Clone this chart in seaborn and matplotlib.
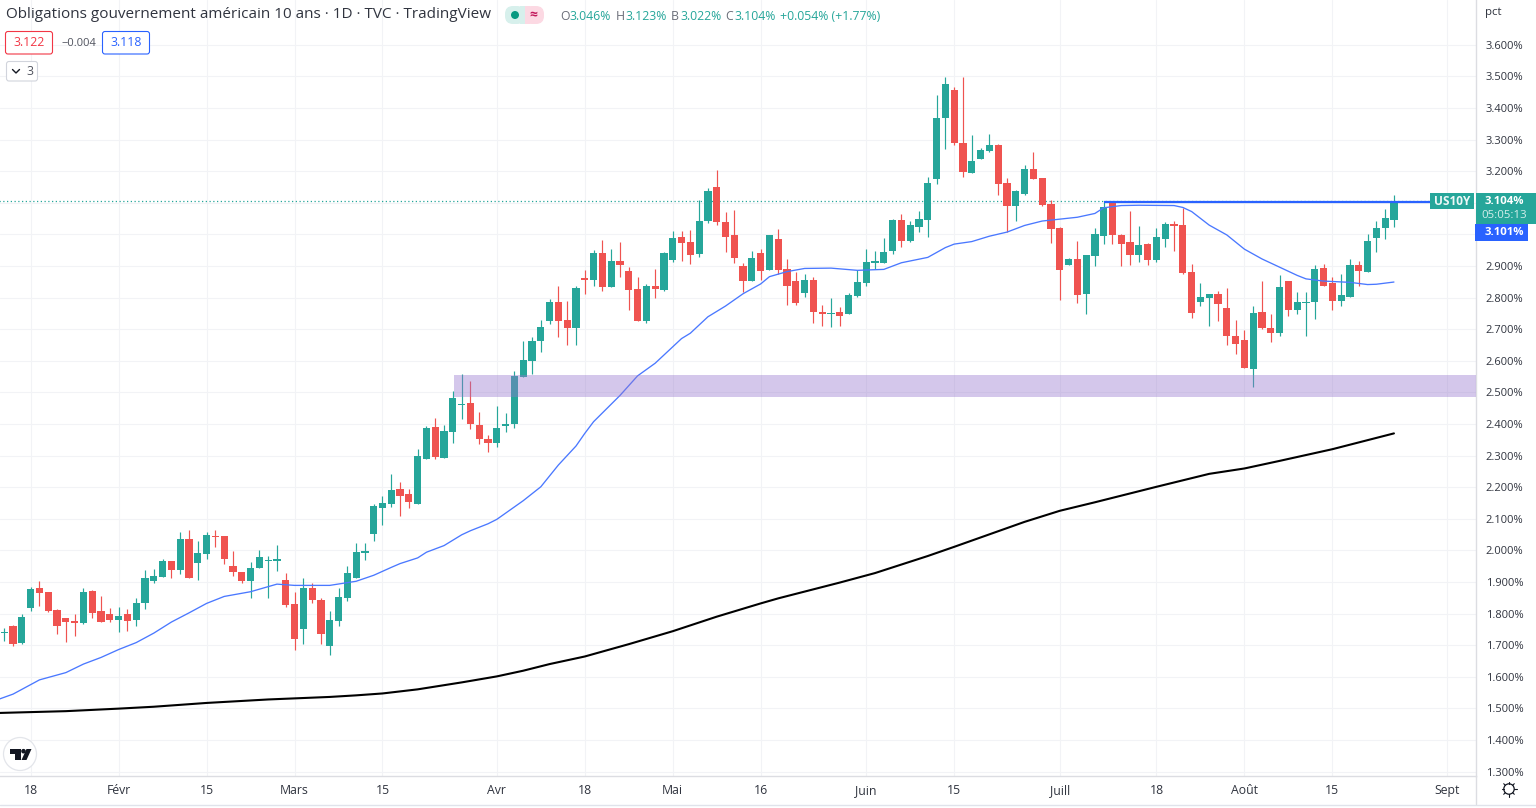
import numpy as np
import pandas as pd
import matplotlib
matplotlib.use("Agg")
import matplotlib.pyplot as plt
import seaborn as sns
from matplotlib.patches import Rectangle, FancyBboxPatch, Circle, Polygon

# === data ===
opens = [1.737, 1.761, 1.707, 1.818, 1.881, 1.868, 1.811, 1.786, 1.776, 1.770, 1.871, 1.808, 1.799, 1.780, 1.799, 1.780,
         1.833, 1.903, 1.916, 1.966, 1.938, 2.036, 1.960, 1.988, 2.045, 2.045, 1.950, 1.931, 1.903, 1.944, 1.966, 1.966,
         1.906, 1.830, 1.751, 1.881, 1.843, 1.697, 1.776, 1.849, 1.912, 1.992, 2.052, 2.134, 2.147, 2.194, 2.178, 2.147,
         2.289, 2.390, 2.292, 2.374, 2.460, 2.466, 2.396, 2.352, 2.340, 2.393, 2.400, 2.548, 2.599, 2.662, 2.726, 2.786,
         2.729, 2.703, 2.862, 2.855, 2.941, 2.833, 2.915, 2.884, 2.827, 2.725, 2.836, 2.824, 2.919, 2.991, 2.976, 2.937,
         3.042, 3.150, 3.039, 2.998, 2.900, 2.852, 2.941, 2.887, 2.985, 2.890, 2.852, 2.814, 2.855, 2.754, 2.748, 2.754,
         2.748, 2.804, 2.846, 2.909, 2.909, 2.947, 3.045, 2.979, 3.023, 3.045, 3.175, 3.368, 3.457, 3.289, 3.194, 3.238,
         3.264, 3.283, 3.162, 3.089, 3.127, 3.206, 3.178, 3.096, 3.020, 2.903, 2.922, 2.811, 2.931, 2.994, 3.098, 2.998,
         2.976, 2.934, 2.969, 2.918, 2.985, 3.033, 3.029, 2.880, 2.786, 2.798, 2.811, 2.767, 2.678, 2.665, 2.574, 2.754,
         2.703, 2.688, 2.852, 2.760, 2.783, 2.786, 2.893, 2.846, 2.789, 2.802, 2.903, 2.881, 2.988, 3.020, 3.046]
closes = [1.737, 1.704, 1.789, 1.878, 1.865, 1.808, 1.761, 1.773, 1.770, 1.868, 1.802, 1.773, 1.780, 1.792, 1.776, 1.833,
          1.912, 1.919, 1.966, 1.938, 2.036, 1.912, 1.992, 2.049, 2.042, 1.973, 1.931, 1.903, 1.944, 1.979, 1.969, 1.973,
          1.827, 1.719, 1.881, 1.843, 1.735, 1.780, 1.852, 1.928, 1.995, 1.998, 2.140, 2.150, 2.191, 2.172, 2.153, 2.299,
          2.387, 2.295, 2.378, 2.482, 2.463, 2.400, 2.352, 2.340, 2.387, 2.400, 2.551, 2.602, 2.662, 2.707, 2.786, 2.726,
          2.703, 2.830, 2.856, 2.941, 2.833, 2.915, 2.903, 2.824, 2.725, 2.836, 2.827, 2.941, 2.988, 2.972, 2.934, 3.042,
          3.137, 3.039, 2.991, 2.925, 2.852, 2.925, 2.884, 2.998, 2.887, 2.836, 2.782, 2.855, 2.754, 2.748, 2.751, 2.741,
          2.808, 2.849, 2.912, 2.915, 2.944, 3.045, 2.979, 3.029, 3.048, 3.162, 3.368, 3.476, 3.289, 3.197, 3.232, 3.267,
          3.283, 3.159, 3.089, 3.137, 3.206, 3.175, 3.093, 3.017, 2.887, 2.922, 2.808, 2.934, 3.001, 3.086, 2.998, 2.969,
          2.934, 2.966, 2.918, 2.991, 3.033, 3.026, 2.877, 2.751, 2.802, 2.811, 2.780, 2.678, 2.653, 2.577, 2.751, 2.703,
          2.688, 2.833, 2.760, 2.786, 2.786, 2.890, 2.836, 2.789, 2.808, 2.903, 2.884, 2.979, 3.020, 3.052, 3.104]
highs = [1.754, 1.764, 1.799, 1.884, 1.903, 1.868, 1.814, 1.786, 1.799, 1.881, 1.874, 1.855, 1.818, 1.821, 1.814, 1.849,
         1.938, 1.941, 1.973, 1.966, 2.058, 2.064, 2.030, 2.058, 2.064, 2.045, 1.998, 1.931, 1.963, 2.001, 1.982, 2.017,
         1.928, 1.868, 1.912, 1.897, 1.849, 1.808, 1.881, 1.950, 2.023, 2.023, 2.147, 2.172, 2.241, 2.216, 2.194, 2.321,
         2.393, 2.419, 2.396, 2.504, 2.558, 2.536, 2.437, 2.365, 2.456, 2.434, 2.567, 2.662, 2.675, 2.729, 2.795, 2.836,
         2.789, 2.836, 2.887, 2.950, 2.982, 2.953, 2.976, 2.896, 2.865, 2.843, 2.890, 2.944, 3.011, 3.011, 3.013, 3.108,
         3.146, 3.203, 3.070, 3.077, 2.909, 2.947, 2.953, 2.998, 3.017, 2.922, 2.881, 2.874, 2.865, 2.776, 2.798, 2.770,
         2.814, 2.887, 2.953, 2.947, 2.988, 3.048, 3.064, 3.042, 3.074, 3.181, 3.441, 3.498, 3.466, 3.498, 3.314, 3.273,
         3.317, 3.286, 3.178, 3.140, 3.219, 3.260, 3.178, 3.108, 3.023, 2.925, 2.979, 2.934, 3.020, 3.103, 3.103, 3.001,
         3.074, 3.026, 2.972, 3.020, 3.039, 3.042, 3.083, 2.906, 2.846, 2.811, 2.820, 2.830, 2.729, 2.697, 2.773, 2.852,
         2.748, 2.871, 2.852, 2.817, 2.817, 2.903, 2.906, 2.865, 2.874, 2.922, 2.915, 3.001, 3.042, 3.080, 3.123]
lows = [1.713, 1.697, 1.704, 1.808, 1.824, 1.805, 1.735, 1.710, 1.729, 1.767, 1.786, 1.773, 1.773, 1.742, 1.745, 1.761,
        1.814, 1.897, 1.916, 1.912, 1.925, 1.912, 1.906, 1.973, 2.011, 1.957, 1.919, 1.897, 1.849, 1.944, 1.849, 1.935,
        1.821, 1.685, 1.704, 1.833, 1.704, 1.669, 1.761, 1.840, 1.912, 1.969, 2.030, 2.080, 2.137, 2.109, 2.134, 2.147,
        2.289, 2.289, 2.292, 2.340, 2.415, 2.384, 2.336, 2.311, 2.327, 2.374, 2.387, 2.548, 2.558, 2.627, 2.716, 2.675,
        2.650, 2.650, 2.811, 2.836, 2.820, 2.833, 2.865, 2.760, 2.725, 2.719, 2.798, 2.820, 2.912, 2.915, 2.906, 2.928,
        3.036, 3.029, 2.944, 2.909, 2.817, 2.852, 2.855, 2.887, 2.874, 2.776, 2.776, 2.801, 2.719, 2.710, 2.706, 2.710,
        2.748, 2.801, 2.836, 2.890, 2.909, 2.938, 2.960, 2.976, 3.007, 2.991, 3.159, 3.270, 3.283, 3.181, 3.194, 3.238,
        3.260, 3.124, 3.007, 3.042, 3.124, 3.175, 3.089, 2.972, 2.792, 2.903, 2.783, 2.748, 2.900, 2.969, 2.969, 2.900,
        2.902, 2.912, 2.902, 2.912, 2.960, 2.947, 2.874, 2.735, 2.773, 2.710, 2.725, 2.650, 2.621, 2.577, 2.517, 2.700,
        2.659, 2.678, 2.741, 2.748, 2.678, 2.732, 2.836, 2.760, 2.773, 2.802, 2.836, 2.881, 2.944, 2.985, 3.022]

ma50_bars = [-1, 1, 3, 4, 7, 9, 11, 13, 15, 17, 19, 21, 23, 25, 28, 30, 31, 33, 37, 40, 42, 44, 45, 47, 48, 50, 52, 53, 55, 56,
             59, 61, 63, 65, 66, 67, 70, 72, 74, 77, 78, 80, 82, 84, 86, 87, 89, 91, 94, 97, 100, 102, 105, 107, 108, 110,
             112, 114, 116, 118, 122, 124, 125, 127, 129, 133, 134, 135, 137, 139, 141, 143, 145, 147, 148, 150, 153, 155,
             156, 158]
ma50_vals = [1.525, 1.545, 1.575, 1.590, 1.613, 1.640, 1.661, 1.686, 1.708, 1.738, 1.773, 1.802, 1.832, 1.854, 1.869, 1.885,
             1.893, 1.889, 1.889, 1.902, 1.921, 1.946, 1.958, 1.976, 1.994, 2.015, 2.049, 2.062, 2.084, 2.098, 2.157, 2.201,
             2.270, 2.330, 2.370, 2.407, 2.490, 2.552, 2.592, 2.670, 2.687, 2.739, 2.773, 2.812, 2.843, 2.866, 2.882, 2.892,
             2.893, 2.886, 2.889, 2.910, 2.927, 2.958, 2.969, 2.977, 2.994, 3.007, 3.028, 3.042, 3.054, 3.066, 3.084, 3.091,
             3.092, 3.091, 3.085, 3.072, 3.029, 2.998, 2.953, 2.922, 2.896, 2.870, 2.859, 2.852, 2.848, 2.841, 2.842, 2.849]

ma200_bars = [-1, 7, 13, 17, 23, 30, 37, 40, 43, 47, 52, 56, 59, 62, 66, 71, 76, 81, 86, 88, 95, 99, 105, 108, 116, 120, 124,
              131, 137, 141, 145, 151, 158]
ma200_vals = [1.485, 1.491, 1.499, 1.505, 1.517, 1.528, 1.536, 1.541, 1.547, 1.560, 1.582, 1.601, 1.619, 1.640, 1.664, 1.703,
              1.744, 1.790, 1.832, 1.848, 1.898, 1.928, 1.982, 2.011, 2.090, 2.125, 2.152, 2.201, 2.242, 2.259, 2.283, 2.320,
              2.370]

tick_bars = [3, 13, 23, 33, 43, 56, 66, 76, 86, 98, 108, 120, 131, 141, 151, 164]
tick_labels = ["18", "Févr", "15", "Mars", "15", "Avr", "18", "Mai", "16", "Juin", "15", "Juill", "18", "Août", "15", "Sept"]
price_levels = [1.3, 1.4, 1.5, 1.6, 1.7, 1.8, 1.9, 2.0, 2.1, 2.2, 2.3, 2.4, 2.5, 2.6, 2.7, 2.8, 2.9, 3.0, 3.1, 3.2, 3.3, 3.4, 3.5, 3.6]

last_price = 3.104
resistance = 3.103
resistance_start = 125
zone_low, zone_high = 2.486, 2.555
zone_start = 51.1

TEAL = "#26a69a"
RED = "#ef5350"
BLUE = "#2962ff"
GRID = "#f2f3f6"
BORDER = "#dcdde2"
INK = "#30343f"
FONT = ["Open Sans", "DejaVu Sans"]

sns.set_theme(style="white")
plt.rcParams["font.family"] = FONT

df = pd.DataFrame({"open": opens, "high": highs, "low": lows, "close": closes})
df["bar"] = np.arange(len(df))
df["up"] = df["close"] >= df["open"]
df["color"] = np.where(df["up"], TEAL, RED)
ma50 = pd.DataFrame({"bar": ma50_bars, "value": ma50_vals})
ma200 = pd.DataFrame({"bar": ma200_bars, "value": ma200_vals})

fig = plt.figure(figsize=(15.36, 8.08), dpi=100, facecolor="white")
ax = fig.add_axes([0, 32 / 808, 1476 / 1536, 776 / 808])
ax.set_xlim(-0.489, 167.33)
ax.set_ylim(1.2858, 3.7415)

# grid
ax.set_yticks(price_levels)
labels = ["" if p in (3.0, 3.1) else f"{p:.3f}%" for p in price_levels]
ax.set_yticklabels(labels)
ax.yaxis.tick_right()
ax.set_xticks(tick_bars)
ax.set_xticklabels(tick_labels)
ax.tick_params(axis="y", length=0, pad=7, labelsize=8.0, labelcolor=INK)
ax.tick_params(axis="x", length=0, pad=5.5, labelsize=8.8, labelcolor=INK)
ax.grid(True, color=GRID, lw=0.8)
ax.set_axisbelow(True)
for side in ["top", "left"]:
    ax.spines[side].set_visible(False)
for side in ["right", "bottom"]:
    ax.spines[side].set_color(BORDER)
    ax.spines[side].set_linewidth(1)

# moving averages
sns.lineplot(data=ma200, x="bar", y="value", color="black", lw=1.5, ax=ax, zorder=2)
sns.lineplot(data=ma50, x="bar", y="value", color="#4a78ff", lw=0.95, ax=ax, zorder=4)
ax.set_xlabel("")
ax.set_ylabel("")

# candles
ax.vlines(df["bar"], df["low"], df["high"], colors=df["color"], lw=0.85, zorder=3)
ax.bar(df["bar"], (df["close"] - df["open"]).abs().clip(lower=0.003), bottom=df[["open", "close"]].min(axis=1),
       width=0.82, color=df["color"], linewidth=0, zorder=3)

# last price and drawings
ax.hlines(last_price, -1, 162.1, colors=TEAL, lw=0.9, linestyles=(0, (1, 2)), zorder=2)
ax.hlines(resistance, resistance_start, 162.1, colors=BLUE, lw=1.6, zorder=5)
ax.add_patch(Rectangle((zone_start, zone_low), 170, zone_high - zone_low, facecolor="#9575cd", alpha=0.4, lw=0, zorder=5))

# === overlay in pixels for the TradingView chrome ===
ov = fig.add_axes([0, 0, 1, 1], facecolor="none")
ov.set_xlim(0, 1536)
ov.set_ylim(808, 0)
ov.axis("off")


def label(x, y, s, color=INK, size=8.8, ha="left", **kw):
    ov.text(x, y, s, color=color, fontsize=size, ha=ha, va="center", **kw)


def box(x0, y0, x1, y1, edge, face="white", r=2.5, lw=0.8):
    ov.add_patch(FancyBboxPatch((x0, y0), x1 - x0, y1 - y0, boxstyle=f"round,pad=0,rounding_size={r}",
                                facecolor=face, edgecolor=edge, lw=lw, mutation_aspect=1))


ov.plot([0, 1536], [804.5, 804.5], color="#e0e3eb", lw=1)
ov.plot([1475.5, 1475.5], [776, 804], color=BORDER, lw=1)

# title row
label(6, 15, "Obligations gouvernement américain 10 ans · 1D · TVC · TradingView", size=10.95)
box(505, 6, 525, 24, "#d7f0ec", "#d7f0ec", r=8, lw=0)
box(524, 6, 544, 24, "#fcd9e3", "#fcd9e3", r=8, lw=0)
ov.add_patch(Rectangle((520, 6), 5, 18, facecolor="#d7f0ec", lw=0))
ov.add_patch(Rectangle((525, 6), 5, 18, facecolor="#fcd9e3", lw=0))
ov.add_patch(Circle((515, 15), 4, facecolor="#089981", lw=0))
label(533, 14.5, "≈", color="#c2185b", size=10, ha="center", fontweight="bold")

for x, s in [(560, "O"), (616, "H"), (671, "B"), (725, "C")]:
    label(x, 16, s, size=8.8, color="#6a6d78")
for x, s in [(569, "3.046%"), (625, "3.123%"), (680, "3.022%"), (734, "3.104%"), (780, "+0.054% (+1.77%)")]:
    label(x, 16, s, size=8.8, color=TEAL)

# value boxes
box(5.5, 31.5, 52.5, 54, "#f23645")
label(29, 43, "3.122", color="#f23645", size=8.8, ha="center")
label(61, 43, "−0.004", color="#50535e", size=8)
box(102.5, 31.5, 149.5, 54, BLUE)
label(126, 43, "3.118", color=BLUE, size=8.8, ha="center")
box(6.5, 61.5, 37.5, 81, "#d1d4dc")
ov.plot([12.5, 16, 19.5], [69.5, 73, 69.5], color="#131722", lw=1)
label(26, 71.5, "3", size=8.8, color="#50535e")

# right hand tags
ov.add_patch(Rectangle((1430, 193), 44, 16, facecolor=TEAL, lw=0))
label(1452, 201.5, "US10Y", color="#eef8f7", size=8.6, ha="center", fontweight="bold")
ov.add_patch(Rectangle((1476, 193), 60, 31, facecolor=TEAL, lw=0))
label(1504, 201.5, "3.104%", color="white", size=8.2, ha="center", fontweight="bold")
label(1504, 215, "05:05:13", color="#d5eeeb", size=8.2, ha="center")
ov.add_patch(Rectangle((1475, 224), 53, 17, facecolor=BLUE, lw=0))
label(1504, 232.5, "3.101%", color="white", size=8.2, ha="center", fontweight="bold")
label(1485, 12, "pct", size=8.2)

# logo bottom left
ov.add_patch(Circle((20, 754), 16.5, facecolor="white", edgecolor="#e3e5ea", lw=0.9))
ov.add_patch(Polygon([(10, 749), (20.5, 749), (20.5, 760), (15, 760), (15, 753.5), (10, 753.5)], facecolor="#131722", lw=0))
ov.add_patch(Circle((23.5, 751.2), 2.3, facecolor="#131722", lw=0))
ov.add_patch(Polygon([(26.5, 749), (31.5, 749), (26.5, 760), (21.5, 760)], facecolor="#131722", lw=0))

# settings icon bottom right
ov.add_patch(Circle((1509, 789), 5.2, facecolor="none", edgecolor="#131722", lw=0.9))
for a in np.deg2rad(np.arange(0, 360, 45)):
    ov.plot([1509 + 5.2 * np.cos(a), 1509 + 7.5 * np.cos(a)], [789 + 5.2 * np.sin(a), 789 + 7.5 * np.sin(a)],
            color="#131722", lw=0.8)

fig.savefig("out.png", dpi=100, facecolor="white")
